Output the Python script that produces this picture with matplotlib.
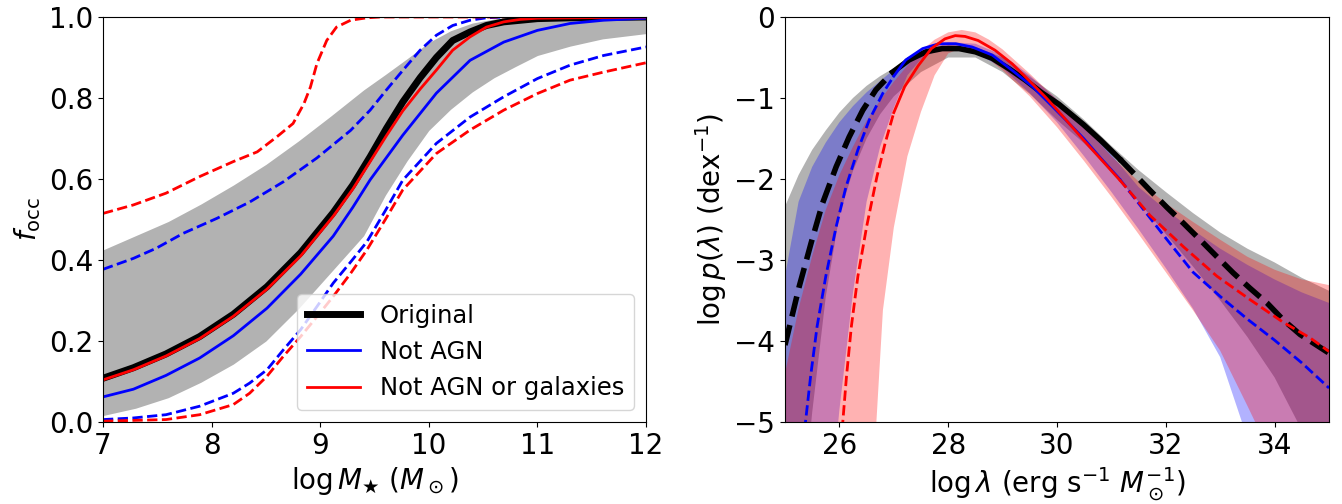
import matplotlib

matplotlib.use("Agg")
import matplotlib.pyplot as plt
import numpy as np

# ---- left panel: occupation fraction vs stellar mass ----
mass_band = [7.0, 7.3, 7.6, 7.9, 8.2, 8.5, 8.8, 9.1, 9.4, 9.6, 9.8, 10.0, 10.2, 10.4,
             10.6, 10.8, 11.0, 11.3, 11.6, 12.0]
band_lo = [0.016, 0.034, 0.06, 0.098, 0.143, 0.2, 0.28, 0.37, 0.46, 0.56, 0.645, 0.72, 0.772, 0.815,
           0.85, 0.878, 0.905, 0.928, 0.946, 0.959]
band_hi = [0.425, 0.46, 0.495, 0.538, 0.585, 0.636, 0.694, 0.756, 0.82, 0.858, 0.897, 0.937, 0.966, 0.985,
           0.995, 0.999, 1.0, 1.0, 1.0, 1.0]

mass_orig = [7.0, 7.28, 7.58, 7.89, 8.2, 8.51, 8.82, 9.12, 9.3, 9.46, 9.61, 9.76, 9.92, 10.07, 10.22,
             10.38, 10.53, 10.69, 11.0, 11.3, 12.0]
focc_orig = [0.108, 0.134, 0.168, 0.211, 0.266, 0.334, 0.418, 0.517, 0.585, 0.655, 0.725, 0.79, 0.85, 0.9, 0.942,
             0.963, 0.979, 0.988, 0.996, 0.998, 1.0]

mass_red = [7.0, 7.28, 7.58, 7.89, 8.2, 8.51, 8.82, 9.12, 9.3, 9.46, 9.61, 9.76, 9.92, 10.07, 10.22,
            10.38, 10.53, 10.69, 10.84, 11.0, 12.0]
focc_red = [0.104, 0.129, 0.163, 0.206, 0.261, 0.328, 0.41, 0.508, 0.575, 0.643, 0.707, 0.768, 0.822, 0.869, 0.918,
            0.951, 0.975, 0.988, 0.994, 0.997, 1.0]

mass_blue = [7.0, 7.28, 7.58, 7.89, 8.2, 8.51, 8.82, 9.12, 9.3, 9.46, 9.76, 10.07, 10.38, 10.69, 11.0,
             11.3, 11.61, 12.0]
focc_blue = [0.062, 0.081, 0.115, 0.158, 0.213, 0.281, 0.365, 0.459, 0.53, 0.598, 0.708, 0.812, 0.893, 0.938, 0.967,
             0.984, 0.992, 0.997]

mass_blue_hi = [7.0, 7.28, 7.49, 7.74, 8.05, 8.35, 8.66, 8.97, 9.28, 9.46, 9.61, 9.76, 9.92, 10.07, 10.22,
                10.38, 10.53, 10.7, 12.0]
focc_blue_hi = [0.377, 0.404, 0.429, 0.466, 0.503, 0.543, 0.593, 0.652, 0.72, 0.77, 0.82, 0.868, 0.918, 0.955, 0.979,
                0.992, 0.998, 1.0, 1.0]

mass_blue_lo = [7.0, 7.28, 7.58, 7.89, 8.2, 8.35, 8.51, 8.66, 8.82, 8.97, 9.12, 9.28, 9.43, 9.6, 9.76,
                10.07, 10.38, 10.69, 11.0, 11.3, 11.61, 12.0]
focc_blue_lo = [0.006, 0.01, 0.018, 0.039, 0.071, 0.096, 0.129, 0.178, 0.228, 0.285, 0.343, 0.395, 0.445, 0.522, 0.597,
                0.688, 0.753, 0.803, 0.848, 0.881, 0.905, 0.926]

mass_red_hi = [7.0, 7.28, 7.58, 7.89, 8.2, 8.42, 8.6, 8.75, 8.85, 8.91, 8.97, 9.06, 9.15, 9.28, 9.43,
               9.55, 12.0]
focc_red_hi = [0.515, 0.536, 0.565, 0.606, 0.643, 0.667, 0.704, 0.737, 0.786, 0.827, 0.885, 0.942, 0.975, 0.992, 0.998,
               1.0, 1.0]

mass_red_lo = [7.0, 7.58, 7.89, 8.2, 8.35, 8.51, 8.66, 8.82, 8.97, 9.12, 9.28, 9.43, 9.6, 9.76, 10.07,
               10.38, 10.69, 11.0, 11.3, 11.61, 12.0]
focc_red_lo = [0.002, 0.006, 0.018, 0.043, 0.071, 0.113, 0.162, 0.211, 0.26, 0.31, 0.367, 0.425, 0.5, 0.573, 0.663,
               0.721, 0.77, 0.811, 0.844, 0.864, 0.887]

# ---- right panel: Eddington ratio distribution ----
lam_gray = [25.0, 25.25, 25.5, 25.75, 26.0, 26.25, 26.5, 26.75, 27.0, 27.5, 28.0, 28.5, 29.0, 29.5,
            30.0, 30.5, 31.0, 31.5, 32.0, 32.5, 33.0, 33.5, 34.0, 34.5, 35.0]
gray_hi = [-2.34, -1.95, -1.64, -1.4, -1.18, -1.0, -0.85, -0.73, -0.63, -0.46, -0.35, -0.37, -0.5, -0.74,
           -0.98, -1.27, -1.59, -1.89, -2.16, -2.42, -2.66, -2.86, -3.03, -3.22, -3.38]
gray_lo = [-8.5, -6.6, -4.88, -3.45, -2.45, -1.9, -1.5, -1.2, -0.98, -0.68, -0.5, -0.5, -0.68, -0.95,
           -1.27, -1.56, -1.9, -2.28, -2.68, -3.08, -3.5, -3.95, -4.45, -5.1, -5.8]

lam_blue = [25.0, 25.25, 25.5, 25.75, 26.0, 26.25, 26.5, 26.75, 27.0, 27.25, 27.5, 27.75, 28.0, 28.5,
            29.0, 29.5, 30.0, 30.5, 31.0, 31.5, 32.0, 32.5, 33.0, 33.5, 34.0, 34.5, 35.0]
blue_hi = [-3.2, -2.28, -1.85, -1.55, -1.3, -1.1, -0.93, -0.79, -0.65, -0.52, -0.42, -0.35, -0.31, -0.33,
           -0.47, -0.72, -1.02, -1.35, -1.7, -2.1, -2.38, -2.63, -2.86, -3.06, -3.24, -3.4, -3.53]
blue_lo = [-10.0, -9.0, -8.0, -6.6, -4.85, -3.4, -2.28, -1.6, -1.12, -0.72, -0.52, -0.43, -0.4, -0.44,
           -0.63, -0.94, -1.3, -1.72, -2.16, -2.62, -3.1, -3.6, -4.2, -5.2, -6.0, -6.8, -7.5]

lam_red = [25.0, 25.25, 25.5, 25.75, 26.0, 26.25, 26.5, 26.68, 26.8, 27.0, 27.25, 27.5, 27.75, 28.0,
           28.25, 28.5, 28.75, 29.0, 29.5, 30.0, 30.5, 31.0, 31.5, 32.0, 32.5, 33.0, 33.5, 34.0, 34.5, 35.0]
red_hi = [-4.4, -3.6, -2.95, -2.38, -1.95, -1.6, -1.28, -1.1, -0.98, -0.8, -0.6, -0.42, -0.28, -0.19,
          -0.16, -0.19, -0.28, -0.4, -0.7, -1.02, -1.35, -1.72, -2.03, -2.3, -2.53, -2.75, -2.96, -3.12, -3.24, -3.31]
red_lo = [-12.0, -11.5, -11.0, -10.5, -10.0, -9.0, -7.5, -5.0, -3.62, -2.6, -1.72, -1.17, -0.72, -0.45,
          -0.38, -0.42, -0.52, -0.66, -0.98, -1.36, -1.78, -2.22, -2.68, -3.15, -3.62, -4.12, -4.8, -5.5, -6.2, -7.0]

lam_orig = [25.0, 25.26, 25.48, 25.69, 25.94, 26.18, 26.43, 26.67, 26.98, 27.28, 27.59, 27.89, 28.2, 28.5,
            28.81, 29.12, 29.42, 29.73, 30.04, 30.49, 30.8, 31.15, 31.41, 31.71, 32.02, 32.33, 32.63, 32.94,
            33.24, 33.55, 33.86, 34.16, 34.47, 35.0]
p_orig = [-4.05, -3.33, -2.79, -2.3, -1.85, -1.48, -1.15, -0.9, -0.68, -0.53, -0.43, -0.39, -0.39, -0.43,
          -0.51, -0.64, -0.78, -0.94, -1.08, -1.33, -1.52, -1.75, -1.93, -2.14, -2.35, -2.55, -2.75, -2.96,
          -3.16, -3.35, -3.53, -3.74, -3.92, -4.15]

lam_nagn = [25.36, 25.47, 25.59, 25.75, 25.94, 26.12, 26.34, 26.55, 26.8, 27.0, 27.22, 27.53, 27.83, 28.14,
            28.44, 28.81, 29.18, 29.55, 29.91, 30.16, 30.49, 30.8, 31.15, 31.5, 32.0, 32.5, 33.0, 33.5,
            34.0, 34.5, 35.0]
p_nagn = [-5.1, -4.44, -3.82, -3.2, -2.59, -2.1, -1.64, -1.27, -0.94, -0.73, -0.53, -0.39, -0.33, -0.33,
          -0.37, -0.47, -0.66, -0.86, -1.1, -1.27, -1.5, -1.74, -2.0, -2.3, -2.73, -3.15, -3.45, -3.73,
          -3.99, -4.27, -4.58]

lam_ngal = [26.05, 26.13, 26.22, 26.34, 26.5, 26.69, 26.84, 27.0, 27.2, 27.45, 27.69, 27.94, 28.13, 28.31,
            28.55, 28.86, 29.18, 29.48, 29.79, 30.1, 30.49, 30.8, 31.15, 31.71, 32.33, 32.94, 33.55, 34.16,
            34.65, 35.0]
p_ngal = [-5.1, -4.44, -3.82, -3.2, -2.59, -1.97, -1.56, -1.18, -0.86, -0.6, -0.39, -0.27, -0.23, -0.24,
          -0.29, -0.41, -0.58, -0.78, -0.99, -1.22, -1.52, -1.75, -2.01, -2.45, -2.84, -3.2, -3.49, -3.77,
          -3.96, -4.13]

# lines are solid only where the distribution is constrained
LAM_SOLID = (27.0, 31.15)

plt.rcParams["font.family"] = ["DejaVu Sans"]
plt.rcParams["font.size"] = 20
plt.rcParams["mathtext.fontset"] = "dejavusans"


def split_plot(ax, x, y, color, lw):
    x = np.asarray(x)
    y = np.asarray(y)
    lo, hi = LAM_SOLID
    i_lo = int(np.argmin(np.abs(x - lo)))
    i_hi = int(np.argmin(np.abs(x - hi)))
    ax.plot(x[: i_lo + 1], y[: i_lo + 1], color=color, lw=lw, ls="--")
    ax.plot(x[i_lo : i_hi + 1], y[i_lo : i_hi + 1], color=color, lw=lw, ls="-")
    ax.plot(x[i_hi:], y[i_hi:], color=color, lw=lw, ls="--")


def main() -> int:
    fig = plt.figure(figsize=(13.42, 5.04), dpi=100)
    ax1 = fig.add_axes([103 / 1342, 82 / 504, 543 / 1342, 405 / 504])
    ax2 = fig.add_axes([785 / 1342, 82 / 504, 544 / 1342, 405 / 504])

    # left
    ax1.fill_between(mass_band, band_lo, band_hi, color="black", alpha=0.3, lw=0)
    ax1.plot(mass_blue_hi, focc_blue_hi, color="blue", lw=2, ls="--")
    ax1.plot(mass_blue_lo, focc_blue_lo, color="blue", lw=2, ls="--")
    ax1.plot(mass_red_hi, focc_red_hi, color="red", lw=2, ls="--")
    ax1.plot(mass_red_lo, focc_red_lo, color="red", lw=2, ls="--")
    ax1.plot(mass_orig, focc_orig, color="black", lw=5, label="Original")
    ax1.plot(mass_blue, focc_blue, color="blue", lw=2, label="Not AGN")
    ax1.plot(mass_red, focc_red, color="red", lw=2, label="Not AGN or galaxies")
    ax1.set_xlim(7, 12)
    ax1.set_ylim(0, 1)
    ax1.set_xlabel(r"$\log M_\bigstar\ (M_\odot)$")
    ax1.set_ylabel(r"$f_{\rm occ}$")
    ax1.legend(loc="lower right", fontsize=17.5, handlelength=2.2)

    # right
    ax2.fill_between(lam_gray, gray_lo, gray_hi, color="black", alpha=0.3, lw=0)
    ax2.fill_between(lam_blue, blue_lo, blue_hi, color="blue", alpha=0.3, lw=0)
    ax2.fill_between(lam_red, red_lo, red_hi, color="red", alpha=0.3, lw=0)
    split_plot(ax2, lam_orig, p_orig, "black", 4)
    split_plot(ax2, lam_nagn, p_nagn, "blue", 2)
    split_plot(ax2, lam_ngal, p_ngal, "red", 2)
    ax2.set_xlim(25, 35)
    ax2.set_ylim(-5, 0)
    ax2.set_xticks([26, 28, 30, 32, 34])
    ax2.set_xlabel(r"$\log\lambda$ (erg s$^{-1}$ $M_\odot^{-1}$)")
    ax2.set_ylabel(r"$\log p(\lambda)$ (dex$^{-1}$)")

    fig.savefig("out.png", dpi=100)
    plt.close(fig)
    return 0


if __name__ == "__main__":
    raise SystemExit(main())
